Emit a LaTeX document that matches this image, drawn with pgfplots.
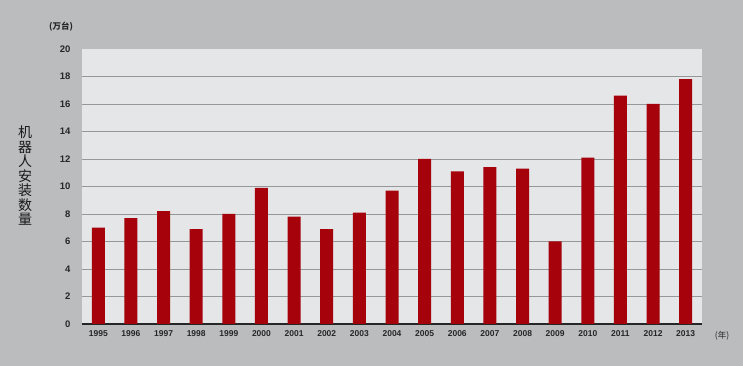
\documentclass[border=0pt]{standalone}
\usepackage{pgfplots}
\pgfplotsset{compat=1.18}
\usepackage{fontspec}
\setmainfont{Liberation Sans}
\newfontfamily\cjk{Noto Sans CJK SC}
\definecolor{bgc}{RGB}{186,188,190}
\definecolor{plotc}{RGB}{229,230,232}
\definecolor{barc}{RGB}{165,2,12}
\definecolor{gridc}{RGB}{150,151,153}
\begin{document}
\begin{tikzpicture}[x=1pt,y=1pt]
\fill[bgc] (0,0) rectangle (743,366);
\begin{axis}[
  at={(82pt,42pt)}, anchor=south west,
  scale only axis, width=620pt, height=275pt,
  ymin=0, ymax=20, ytick={0,2,...,18},
  extra y ticks={20}, extra y tick style={grid=none},
  xmin=-0.5, xmax=18.5,
  xtick=data,
  xticklabels={1995,1996,1997,1998,1999,2000,2001,2002,2003,2004,2005,2006,2007,2008,2009,2010,2011,2012,2013},
  axis x line=bottom, axis y line=left,
  x axis line style={-, line width=1.2pt, black!85},
  y axis line style={draw=none},
  major tick length=0pt,
  ymajorgrids, grid style={gridc, line width=0.7pt},
  axis background/.style={fill=plotc},
  ybar, bar width=13pt,
  tick label style={font=\bfseries\fontsize{9.5}{10}\selectfont, text=black!85},
  xticklabel style={font=\bfseries\fontsize{8.5}{9}\selectfont},
  /pgf/number format/assume math mode=true,
  yticklabel shift=8pt, xticklabel shift=3pt,
  clip=false,
]
\addplot[fill=barc, draw=none] coordinates {
(0,7.0) (1,7.7) (2,8.2) (3,6.9) (4,8.0) (5,9.9) (6,7.8) (7,6.9) (8,8.1) (9,9.7)
(10,12.0) (11,11.1) (12,11.4) (13,11.3) (14,6.0) (15,12.1) (16,16.6) (17,16.0) (18,17.8)
};
\end{axis}
\node[font=\cjk\bfseries\fontsize{8.5}{9}\selectfont, text=black!85] at (61,339) {(万台)};
\node[font=\cjk\fontsize{8.5}{9}\selectfont, text=black!85] at (722,30) {(年)};
\node[font=\cjk\fontsize{14}{14.5}\selectfont, align=center, text=black!90] at (25,190) {机\\器\\人\\安\\装\\数\\量};
\end{tikzpicture}
\end{document}
